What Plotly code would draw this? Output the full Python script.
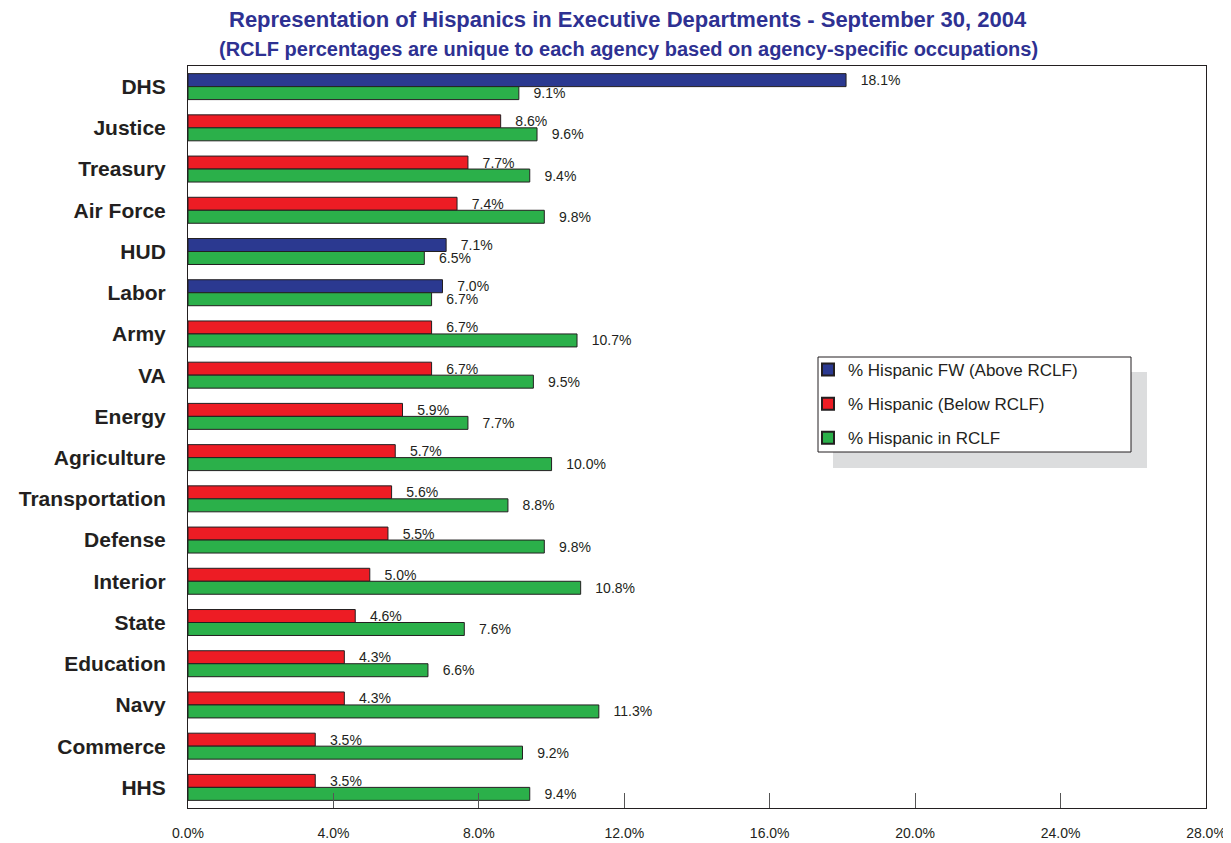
import plotly.graph_objects as go

departments = ["DHS", "Justice", "Treasury", "Air Force", "HUD", "Labor", "Army", "VA",
               "Energy", "Agriculture", "Transportation", "Defense", "Interior", "State",
               "Education", "Navy", "Commerce", "HHS"]
hispanic_fw = [18.1, 8.6, 7.7, 7.4, 7.1, 7.0, 6.7, 6.7, 5.9, 5.7, 5.6, 5.5, 5.0, 4.6,
               4.3, 4.3, 3.5, 3.5]
hispanic_rclf = [9.1, 9.6, 9.4, 9.8, 6.5, 6.7, 10.7, 9.5, 7.7, 10.0, 8.8, 9.8, 10.8, 7.6,
                 6.6, 11.3, 9.2, 9.4]
x_ticks = [0, 4, 8, 12, 16, 20, 24, 28]
x_tick_labels = [f"{v:.1f}%" for v in x_ticks]

BLUE = "#2B3990"
RED = "#ED1C24"
GREEN = "#2BB04A"
OUTLINE = "#231F20"
FONT = "Arial, Liberation Sans, sans-serif"

above = [v if v > r else None for v, r in zip(hispanic_fw, hispanic_rclf)]
below = [v if v <= r else None for v, r in zip(hispanic_fw, hispanic_rclf)]

pad = "\u00a0\u00a0\u00a0"

def bar(name, vals, color, group):
    return go.Bar(
        name=name, y=departments, x=vals, orientation="h",
        offsetgroup=group, legendgroup=name,
        marker=dict(color=color, line=dict(color=OUTLINE, width=1)),
        text=[None if v is None else f"{pad}{v:.1f}%" for v in vals],
        textposition="outside", constraintext="none", cliponaxis=False,
        textfont=dict(family=FONT, size=14, color="#231F20"),
        hoverinfo="x+y",
    )

fig = go.Figure()
fig.add_trace(bar("% Hispanic FW (Above RCLF)", above, BLUE, "fw"))
fig.add_trace(bar("% Hispanic (Below RCLF)", below, RED, "fw"))
fig.add_trace(bar("% Hispanic in RCLF", hispanic_rclf, GREEN, "rclf"))

# page body has an 8px margin: work in window coordinates and shift
OFF = 8
W, H = 1231 - OFF, 843 - OFF
L, R, T, B = 188 - OFF, 1206 - OFF, 66 - OFF, 808 - OFF

def px(x):
    return (x - OFF - L) / (R - L)

def py(y):
    return (B - (y - OFF)) / (B - T)

fig.update_layout(
    width=W, height=H,
    margin=dict(l=L, r=W - R, t=T, b=H - B, pad=0, autoexpand=False),
    paper_bgcolor="white", plot_bgcolor="white",
    barmode="group", bargap=0.37, bargroupgap=0,
    font=dict(family=FONT, color="#231F20"),
    showlegend=True,
    legend=dict(
        x=px(808), y=py(352), xanchor="left", yanchor="top",
        bgcolor="rgba(0,0,0,0)", borderwidth=0,
        font=dict(size=17, color="#231F20"),
        traceorder="grouped", itemsizing="constant",
        tracegroupgap=9,
    ),
    xaxis=dict(
        range=[0, 28], tickmode="array", tickvals=x_ticks, ticktext=x_tick_labels,
        ticks="inside", ticklen=15, tickcolor="#555555", tickwidth=1,
        showline=True, mirror=True, linecolor=OUTLINE, linewidth=1,
        showgrid=False, zeroline=False,
        tickfont=dict(size=14, color="#231F20"), ticklabelstandoff=12,
    ),
    yaxis=dict(
        autorange=False, range=[17.5, -0.5], type="category",
        showline=True, mirror=True, linecolor=OUTLINE, linewidth=1,
        showgrid=False, ticks="", ticklabelstandoff=17,
        tickfont=dict(size=21, color="#231F20", family=FONT, weight="bold"),
    ),
    shapes=[
        dict(type="rect", xref="paper", yref="paper", x0=px(833), x1=px(1147),
             y0=py(468), y1=py(372), fillcolor="#DCDDDE", line=dict(width=0), layer="above"),
        dict(type="rect", xref="paper", yref="paper", x0=px(818), x1=px(1131),
             y0=py(452), y1=py(357), fillcolor="white", line=dict(color=OUTLINE, width=1), layer="above"),
    ],
    annotations=[
        dict(text="<b>Representation of Hispanics in Executive Departments - September 30, 2004</b>",
             xref="paper", yref="paper", x=px(628), y=py(20), xanchor="center", yanchor="middle",
             borderpad=0, showarrow=False, font=dict(size=22, color="#2E3192", family=FONT)),
        dict(text="<b>(RCLF percentages are unique to each agency based on agency-specific occupations)</b>",
             xref="paper", yref="paper", x=px(628), y=py(49), xanchor="center", yanchor="middle",
             borderpad=0, showarrow=False, font=dict(size=20, color="#2E3192", family=FONT)),
    ],
)

fig.write_html("out.html")
